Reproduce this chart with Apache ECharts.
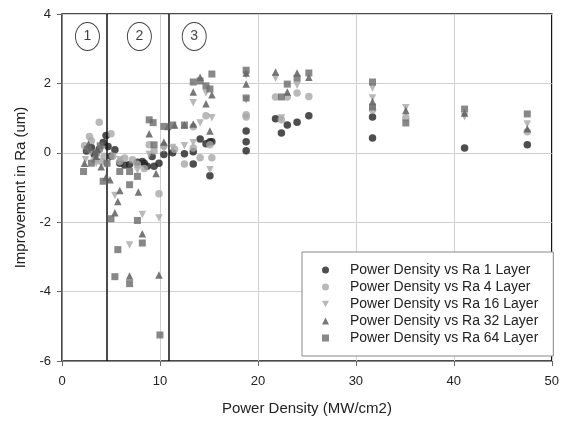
<!DOCTYPE html>
<html>
<head>
<meta charset="utf-8">
<script src="https://cdn.jsdelivr.net/npm/echarts@6/dist/echarts.min.js"></script>
<style>html,body{margin:0;padding:0;background:#fff;}#c{width:562px;height:421px;}</style>
</head>
<body>
<div id="c"></div>
<script>
// ---- data (x = Power Density MW/cm2, y = Improvement in Ra um) ----
var layer1 = [[2.5,0.05],[3.0,0.15],[3.3,-0.05],[3.8,0.1],[4.2,0.3],[4.5,0.5],[4.7,0.18],[5.0,-0.1],
  [5.4,0.09],[5.9,-0.3],[6.4,-0.35],[6.9,-0.34],[7.7,-0.27],[8.2,-0.25],[8.4,-0.3],[8.7,-0.39],[9.2,-0.11],[9.4,-0.39],[9.9,-0.3],[10.4,-0.05],
  [11.3,0.0],[12.5,-0.03],[13.4,0.03],[13.4,-0.32],[14.1,0.40],[14.7,0.26],[15.1,0.32],[15.1,-0.66],[15.3,0.32],
  [18.8,0.63],[18.8,0.32],[18.8,0.06],[21.8,0.98],[22.4,0.57],[23.0,0.80],[24.0,0.88],[25.2,1.07],[31.7,1.03],[31.7,0.43],[41.1,0.14],[47.5,0.23]];
var layer4 = [[2.3,0.2],[2.8,0.47],[3.0,0.35],[3.3,-0.2],[3.8,0.88],[4.0,-0.25],[4.3,-0.1],[5.0,0.55],
  [5.2,-0.1],[5.9,-0.25],[6.4,-0.15],[7.2,-0.2],[7.7,-0.33],[8.4,-0.45],[8.9,0.23],[9.4,0.05],[9.9,-1.18],[10.4,0.2],
  [11.5,0.1],[12.5,-0.32],[13.4,0.75],[13.4,0.14],[14.1,-0.14],[14.7,1.07],[15.1,0.23],[15.3,-0.14],
  [18.8,1.03],[18.8,1.1],[21.8,1.61],[22.4,0.95],[23.0,1.61],[24.0,1.72],[25.2,1.62],[31.7,1.24],[35.1,1.01],[47.5,0.61]];
var layer16 = [[2.4,-0.2],[2.9,0.0],[3.5,-0.3],[4.0,0.1],[4.5,-0.35],
  [5.4,-1.23],[5.9,-0.2],[6.9,-2.66],[7.7,-0.5],[8.2,-1.78],[8.9,-0.05],[9.9,-1.88],[10.4,0.1],
  [11.3,0.15],[12.5,0.20],[13.4,0.29],[13.4,1.44],[14.1,0.86],[14.7,1.72],[15.1,-0.49],[15.3,1.01],
  [18.8,2.24],[18.8,1.52],[21.8,2.15],[22.4,1.0],[24.0,1.95],[31.7,1.87],[31.7,1.58],[35.1,1.3],[41.1,1.04],[47.5,0.83]];
var layer32 = [[2.3,-0.3],[2.7,0.25],[3.0,0.15],[3.5,-0.1],[4.0,-0.4],[4.5,-0.7],
  [4.9,-0.78],[5.4,-1.73],[5.7,-1.40],[5.9,-1.09],[6.9,-3.55],[7.8,-1.13],[8.2,-2.33],[8.9,0.55],[9.6,-0.6],[9.9,-3.52],[10.4,0.31],[10.8,0.76],
  [11.5,0.8],[12.5,0.80],[13.4,0.83],[13.4,1.75],[14.1,2.18],[14.7,1.41],[15.1,0.63],[15.3,1.67],
  [18.8,1.98],[18.8,2.3],[21.8,2.33],[23.0,1.75],[24.0,2.30],[25.2,2.18],[31.7,1.47],[35.1,1.22],[41.1,1.15],[47.5,0.69]];
var layer64 = [[2.2,-0.54],[2.6,0.1],[3.0,-0.3],[3.5,0.0],[3.9,0.2],[4.2,-0.82],[4.6,-0.3],
  [5.0,-1.9],[5.4,-3.57],[5.7,-2.79],[5.9,-0.54],[6.9,-0.54],[6.9,-0.92],[6.9,-3.77],[7.7,-1.95],[7.7,-0.68],[8.2,-2.6],[8.9,0.95],[9.3,0.87],[9.4,0.23],[10.0,-5.25],[10.4,0.76],
  [11.3,0.8],[12.5,0.80],[13.4,2.04],[14.1,2.07],[14.7,1.93],[15.1,1.84],[15.3,2.27],
  [18.8,2.38],[18.8,1.58],[22.4,1.61],[23.0,1.98],[24.0,2.15],[25.2,2.30],[31.7,2.04],[31.7,1.32],[35.1,0.86],[41.1,1.26],[47.5,1.12]];
var seriesNames = ['Power Density vs Ra 1 Layer','Power Density vs Ra 4 Layer','Power Density vs Ra 16 Layer','Power Density vs Ra 32 Layer','Power Density vs Ra 64 Layer'];
var dividers = [4.6, 10.85];
var regionLabels = ['1','2','3'];
var regionX = [2.6, 7.9, 13.5];
var regionY = 3.35;
var xTicks = {min:0, max:50, interval:10};
var yTicks = {min:-6, max:4, interval:2};

var FONT = 'Liberation Sans, Arial, sans-serif';
var DOWN_TRI = 'path://M0,0 L10,0 L5,9 Z';
var styles = [
  {symbol:'circle', icon:'circle', size:7.5, rot:0, color:'#222222'},
  {symbol:'circle', icon:'circle', size:7.5, rot:0, color:'#a8a8a8'},
  {symbol:'triangle', icon:DOWN_TRI, size:7.5, rot:180, color:'#a8a8a8'},
  {symbol:'triangle', icon:'triangle', size:7.5, rot:0, color:'#555555'},
  {symbol:'rect', icon:'rect', size:7, rot:0, color:'#6a6a6a'}
];
var datas = [layer1, layer4, layer16, layer32, layer64];
var series = datas.map(function(d,i){
  return {name:seriesNames[i], type:'scatter', data:d, symbol:styles[i].symbol, symbolSize:styles[i].size,
    symbolRotate:styles[i].rot, itemStyle:{color:styles[i].color}, z:3+i};
});
series.push({type:'scatter', name:'_regions', silent:true, z:10,
  data: regionLabels.map(function(l,i){return {value:[regionX[i], regionY], label:{formatter:l}};}),
  symbol:'circle', symbolSize:[24,28],
  itemStyle:{color:'#fff', borderColor:'#111', borderWidth:1},
  label:{show:true, position:'inside', color:'#111', fontSize:14, fontFamily:FONT},
  markLine:{silent:true, symbol:'none', label:{show:false},
    lineStyle:{color:'#111', width:1.5, type:'solid'},
    data: dividers.map(function(v){return {xAxis:v};})}
});

var chart = echarts.init(document.getElementById('c'), null, {renderer:'canvas'});
chart.setOption({
  animation:false,
  backgroundColor:'#fff',
  grid:{left:62, right:6, top:14, bottom:59, show:true, borderColor:'#111', borderWidth:1.5, backgroundColor:'transparent'},
  xAxis:{type:'value', min:xTicks.min, max:xTicks.max, interval:xTicks.interval,
    name:'Power Density (MW/cm2)', nameLocation:'middle', nameGap:40,
    nameTextStyle:{fontSize:15, color:'#222', fontFamily:FONT},
    axisLine:{onZero:false, lineStyle:{color:'#888', width:1}},
    axisTick:{show:true, length:5, inside:false, lineStyle:{color:'#666'}},
    axisLabel:{fontSize:13, color:'#222', fontFamily:FONT, margin:14},
    splitLine:{show:true, lineStyle:{color:'#d0d0d0', width:1}}},
  yAxis:{type:'value', min:yTicks.min, max:yTicks.max, interval:yTicks.interval,
    name:'Improvement in Ra (um)', nameLocation:'middle', nameGap:34, nameRotate:90,
    nameTextStyle:{fontSize:15, color:'#222', fontFamily:FONT},
    axisLine:{onZero:false, lineStyle:{color:'#888', width:1}},
    axisTick:{show:true, length:5, lineStyle:{color:'#666'}},
    axisLabel:{fontSize:13, color:'#222', fontFamily:FONT, margin:11},
    splitLine:{show:true, lineStyle:{color:'#d0d0d0', width:1}}},
  legend:{data:seriesNames.map(function(n,i){return {name:n, icon:styles[i].icon};}),
    orient:'vertical', left:302, top:252, itemWidth:7, itemHeight:7, itemGap:3,
    padding:[11,15,11,20], backgroundColor:'#fff', borderColor:'#888', borderWidth:1,
    textStyle:{fontSize:14, color:'#222', fontFamily:FONT, lineHeight:14, padding:[0,0,0,16]}},
  series:series
});
</script>
</body>
</html>
